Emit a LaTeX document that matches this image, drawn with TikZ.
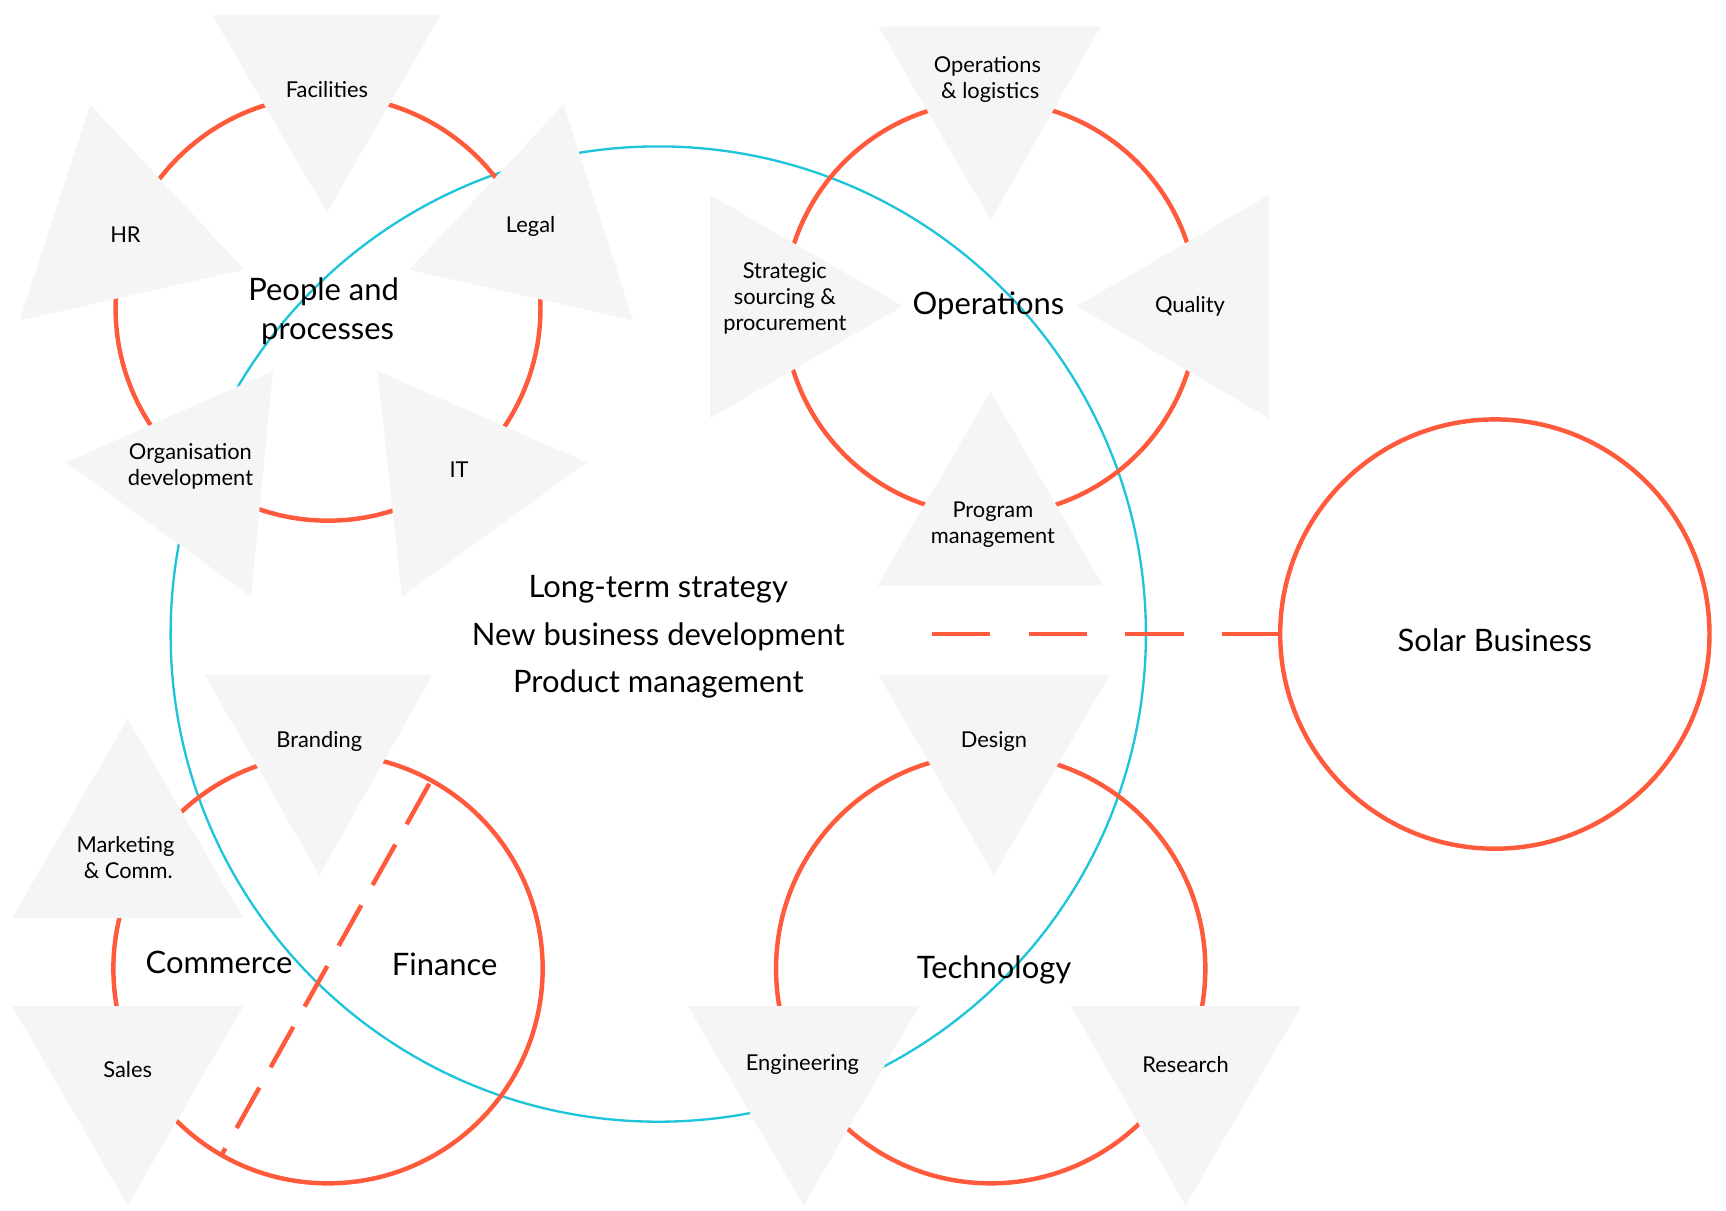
\documentclass[tikz,border=0pt]{standalone}
\usepackage{fontspec}
\setmainfont{Lato}
\definecolor{org}{HTML}{FF5A3C}
\definecolor{blu}{HTML}{1EC4DA}
\definecolor{tri}{HTML}{F5F5F5}
\begin{document}
\begin{tikzpicture}[x=0.02cm,y=-0.02cm,
  oc/.style={draw=org,line width=2.3pt},
  tr/.style={fill=tri},
  sm/.style={font=\fontsize{11.3}{13.5}\selectfont,align=center},
  lg/.style={font=\fontsize{16}{20}\selectfont,align=center}]
\useasboundingbox[fill=white] (0,0) rectangle (1568,1100);
\draw[blu,line width=1.2pt] (598,576) circle (443);
\draw[oc] (298,280) circle (193);
\draw[oc] (900,280) circle (188);
\draw[oc] (298,880) circle (195);
\draw[oc] (900,880) circle (195);
\draw[oc] (1358,576) circle (195);
\coordinate (d1) at (835,576); \coordinate (d2) at (1163,576);
\draw[org,line width=2.3pt,dash pattern=on 30pt off 20pt] (d2) -- (d1);
\coordinate (f1) at (390,712); \coordinate (f2) at (202,1048);
\draw[org,line width=2.3pt,dash pattern=on 24pt off 12pt] (f1) -- (f2);
% triangles
\fill[tr] (193,14) -- (400,14) -- (297,193) -- cycle;
\fill[tr] (82,95) -- (18,291) -- (222,245) -- cycle;
\fill[tr] (512,95) -- (575,291) -- (372,245) -- cycle;
\fill[tr] (248,337) -- (60,420) -- (228,542) -- cycle;
\fill[tr] (343,337) -- (533,420) -- (365,542) -- cycle;
\fill[tr] (798,24) -- (1000,24) -- (900,200) -- cycle;
\fill[tr] (645,177) -- (645,380) -- (820,278) -- cycle;
\fill[tr] (1153,177) -- (1153,380) -- (978,278) -- cycle;
\fill[tr] (900,356) -- (1002,532) -- (797,532) -- cycle;
\fill[tr] (186,613) -- (393,613) -- (290,795) -- cycle;
\fill[tr] (116,653) -- (221,834) -- (11,834) -- cycle;
\fill[tr] (11,914) -- (221,914) -- (116,1095) -- cycle;
\fill[tr] (798,613) -- (1008,613) -- (903,795) -- cycle;
\fill[tr] (625,914) -- (835,914) -- (730,1095) -- cycle;
\fill[tr] (973,914) -- (1182,914) -- (1077,1095) -- cycle;
% texts
\node[sm] (fac) at (297,81) {Facilities};
\node[sm] (hr) at (114,213) {HR};
\node[sm] (leg) at (482,206) {Legal};
\node[lg] (pp) at (294,283) {People and\\ \ processes};
\node[sm] (od) at (173,424) {Organisation\\development};
\node[sm] (it) at (417,427) {IT};
\node[sm] (ol) at (897,72) {Operations\\ \ \& logistics};
\node[sm] (ss) at (713,271) {Strategic\\sourcing \&\\procurement};
\node[lg] (op) at (898,278) {Operations};
\node[sm] (q) at (1081,278) {Quality};
\node[sm] (pm) at (902,477) {Program\\management};
\node[lg] (c1) at (598,535) {Long-term strategy};
\node[lg] (c2) at (598,578) {New business development};
\node[lg] (c3) at (598,621) {Product management};
\node[sm] (br) at (290,674) {Branding};
\node[sm] (mk) at (114,779) {Marketing\\ \ \& Comm.};
\node[lg] (cm) at (199,874) {Commerce};
\node[lg] (fi) at (404,876) {Finance};
\node[sm] (sa) at (116,972) {Sales};
\node[sm] (de) at (903,674) {Design};
\node[lg] (te) at (903,881) {Technology};
\node[sm] (en) at (729,967) {Engineering};
\node[sm] (re) at (1077,967) {Research};
\node[lg] (so) at (1358,582) {Solar Business};
\end{tikzpicture}
\end{document}
